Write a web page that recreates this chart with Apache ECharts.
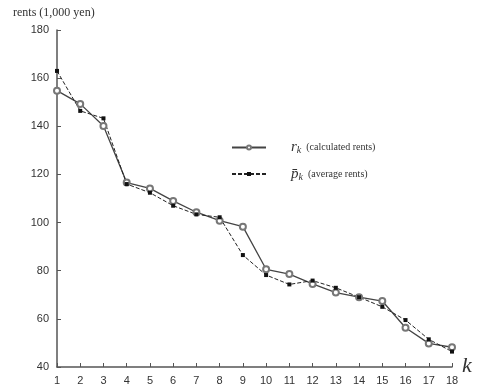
<!DOCTYPE html>
<html>
<head>
<meta charset="utf-8">
<script src="https://cdn.jsdelivr.net/npm/echarts@6/dist/echarts.min.js"></script>
<style>
  html, body { margin: 0; padding: 0; background: #fff; }
  #chart { width: 480px; height: 391px; }
</style>
</head>
<body>
<div id="chart"></div>
<script>
// k = 1 .. 18
var kLabels = ['1', '2', '3', '4', '5', '6', '7', '8', '9', '10', '11', '12', '13', '14', '15', '16', '17', '18'];
// calculated rents r_k (1,000 yen)
var calcRents = [154.8, 149.3, 140.1, 116.6, 114.2, 109, 104.3, 100.8, 98.3, 80.6, 78.6, 74.5, 70.9, 69, 67.4, 56.3, 49.8, 48.2];
// average rents p_k (1,000 yen)
var avgRents = [163, 146.4, 143.3, 116, 112.4, 107, 103.4, 102.2, 86.5, 78.2, 74.3, 75.9, 72.9, 69, 65, 59.5, 51.5, 46.4];
var yTicks = [40, 60, 80, 100, 120, 140, 160, 180];

var myChart = echarts.init(document.getElementById('chart'));

var axisColor = '#555';
var labelFont = 'Liberation Sans';
var serifFont = 'Liberation Serif';

var option = {
    backgroundColor: '#fff',
    animation: false,
    grid: {
        left: 57,
        right: 28,
        top: 30,
        bottom: 24
    },
    title: {
        text: 'rents (1,000 yen)',
        left: 8,
        top: 2,
        textStyle: {
            fontFamily: serifFont,
            fontSize: 12,
            fontWeight: 'normal',
            color: '#333'
        }
    },
    legend: {
        orient: 'vertical',
        left: 226,
        top: 135,
        itemWidth: 34,
        itemHeight: 5,
        itemGap: 11,
        data: ['calc', 'avg'],
        formatter: function (name) {
            if (name === 'calc') {
                return '{v|r}{s|k}{t|  (calculated rents)}';
            }
            return '{v|p\u0304}{s|k}{t|  (average rents)}';
        },
        textStyle: {
            color: '#333',
            rich: {
                v: { fontFamily: serifFont, fontStyle: 'italic', fontSize: 15, color: '#333', padding: [0, 0, 0, 20] },
                s: { fontFamily: serifFont, fontStyle: 'italic', fontSize: 10, color: '#333', padding: [6, 0, 0, 0] },
                t: { fontFamily: serifFont, fontSize: 10, color: '#333' }
            }
        }
    },
    graphic: [{
        type: 'text',
        left: 462,
        top: 355,
        style: {
            text: 'k',
            fontFamily: serifFont,
            fontStyle: 'italic',
            fontSize: 22,
            fill: '#333'
        }
    }],
    xAxis: {
        type: 'category',
        boundaryGap: false,
        data: kLabels,
        axisLine: { lineStyle: { color: axisColor, width: 1.5 } },
        axisTick: { inside: true, length: 4, lineStyle: { color: axisColor } },
        axisLabel: {
            color: '#333',
            fontFamily: labelFont,
            fontSize: 11,
            margin: 8,
            interval: 0
        },
        splitLine: { show: false }
    },
    yAxis: {
        type: 'value',
        min: yTicks[0],
        max: yTicks[yTicks.length - 1],
        interval: 20,
        axisLine: { show: true, lineStyle: { color: axisColor, width: 1.5 } },
        axisTick: { show: true, inside: true, length: 4, lineStyle: { color: axisColor } },
        axisLabel: {
            color: '#333',
            fontFamily: labelFont,
            fontSize: 11,
            margin: 8
        },
        splitLine: { show: false }
    },
    series: [
        {
            name: 'calc',
            type: 'line',
            data: calcRents,
            symbol: 'emptyCircle',
            symbolSize: 6,
            lineStyle: { color: '#444', width: 1.3, type: 'solid' },
            itemStyle: { color: '#777', borderWidth: 1 }
        },
        {
            name: 'avg',
            type: 'line',
            data: avgRents,
            symbol: 'rect',
            symbolSize: 4,
            lineStyle: { color: '#222', width: 1, type: [4, 2] },
            itemStyle: { color: '#111' }
        }
    ]
};

myChart.setOption(option);
</script>
</body>
</html>
